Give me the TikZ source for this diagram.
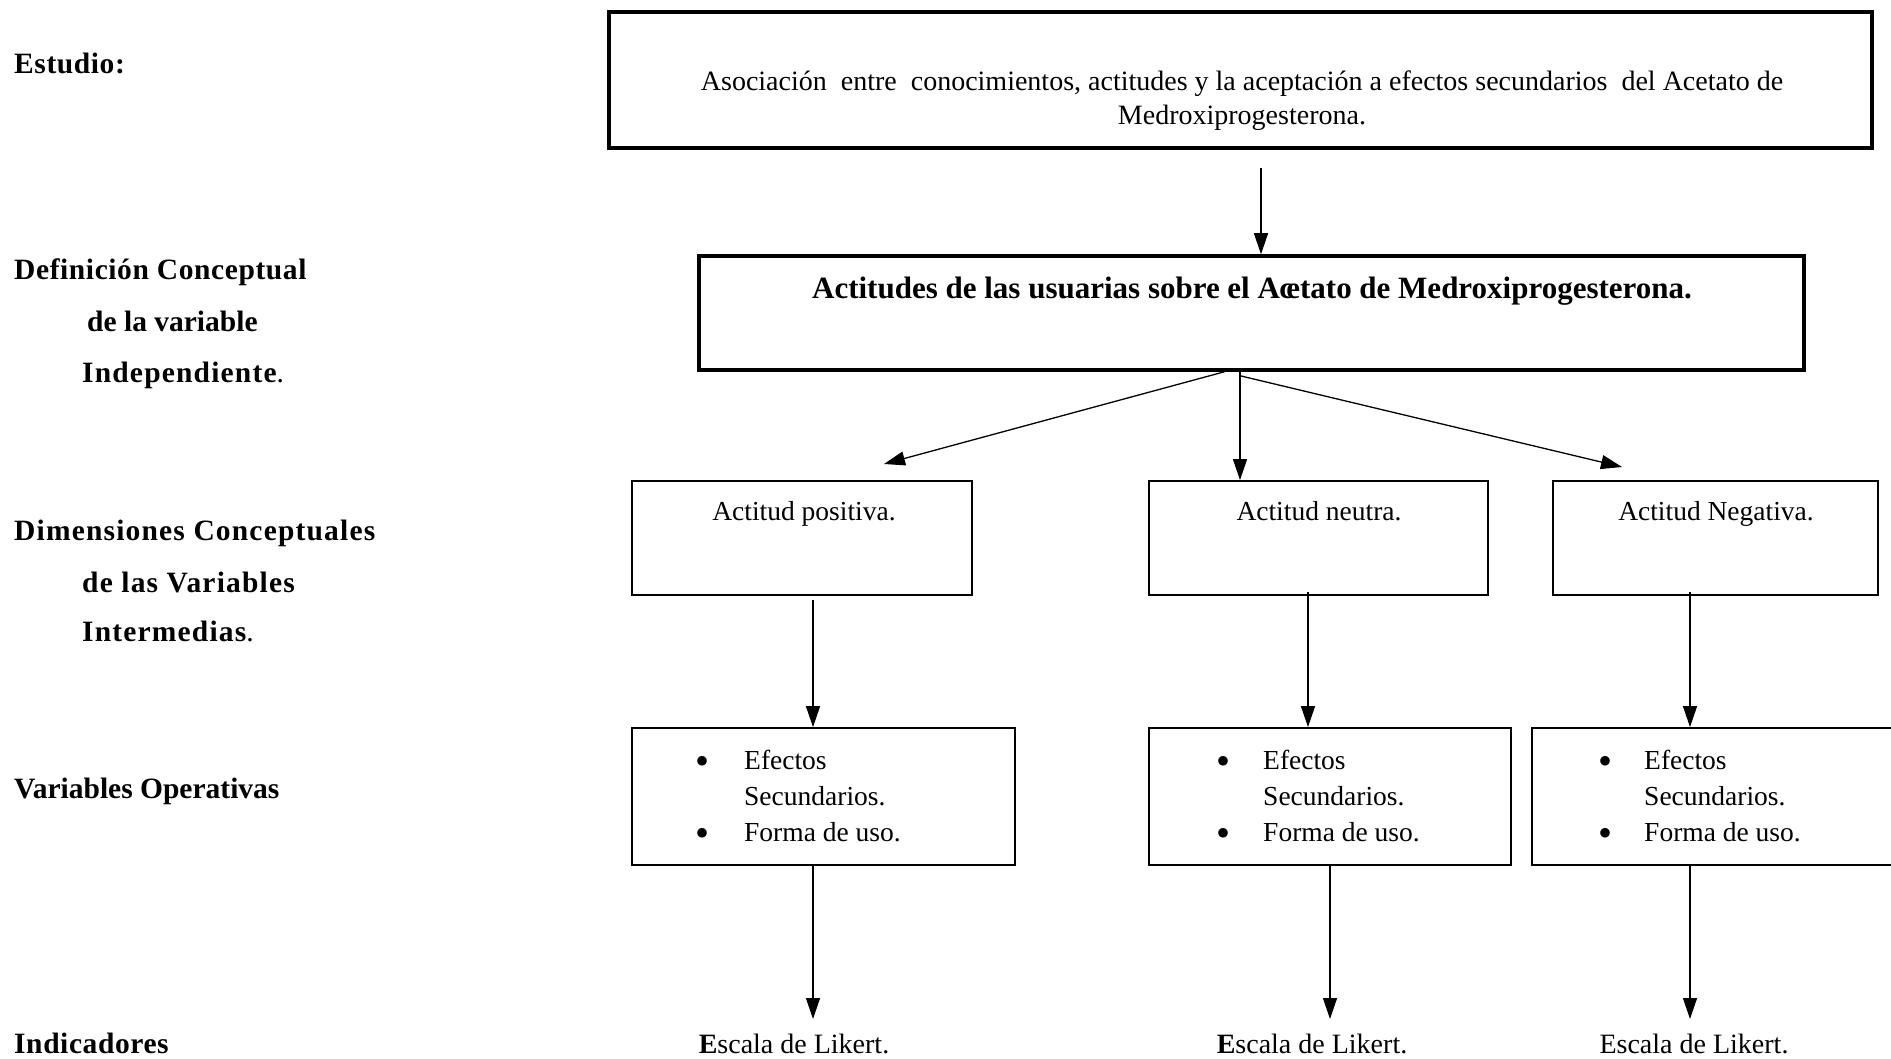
\documentclass[tikz,border=0pt]{standalone}
\usepackage{fontspec}
\setmainfont{Liberation Serif}
\newfontfamily\lblfont{Liberation Serif}
\newfontfamily\lblwide[LetterSpace=4]{Liberation Serif}
\newfontfamily\lblmid[LetterSpace=2]{Liberation Serif}
\usetikzlibrary{arrows.meta}
\begin{document}
\begin{tikzpicture}[x=1pt,y=-1pt,
  bigbox/.style={draw, line width=3.5pt, inner sep=0pt},
  smallbox/.style={draw, line width=1.8pt, inner sep=0pt},
  arr/.style={line width=1.3pt, -{Triangle[length=21pt,width=14pt]}},
  txt/.style={font=\fontsize{27.5}{36}\selectfont, inner sep=0pt},
  btxt/.style={font=\bfseries\fontsize{31}{36}\selectfont, inner sep=0pt},
  lbl/.style={font=\lblfont\fontsize{29.5}{34}\selectfont, anchor=base west, inner sep=0pt},
  lblm/.style={font=\lblmid\fontsize{29.5}{34}\selectfont, anchor=base west, inner sep=0pt},
  lblw/.style={font=\lblwide\fontsize{29.5}{34}\selectfont, anchor=base west, inner sep=0pt},
  line/.style={txt, anchor=base west},
  bul/.style={font=\fontsize{40}{40}\selectfont, inner sep=0pt, anchor=base}]
\useasboundingbox (0,0) rectangle (1891,1059);

% left labels
\node[lblm] (l1) at (14,74) {\bfseries Estudio:};
\node[lblm] (l2a) at (14,280) {\bfseries Definición Conceptual};
\node[lbl] (l2b) at (87,332) {\bfseries de la variable};
\node[lblw] (l2c) at (82,383) {{\bfseries Independiente}.};
\node[lblw] (l3a) at (14,540) {\bfseries Dimensiones Conceptuales};
\node[lblw] (l3b) at (82,592) {\bfseries de las Variables};
\node[lblw] (l3c) at (82,641) {{\bfseries Intermedias}.};
\node[lbl] (l4) at (14,798) {\bfseries Variables Operativas};
\node[lblm] (l5) at (14,1053) {\bfseries Indicadores};

% top box
\node[bigbox, minimum width=1263pt, minimum height=136pt] (estudio) at (1240.5,80) {};
\node[txt, font=\fontsize{28}{36}\selectfont, anchor=base] (t1a) at (1242,91) {Asociación~~entre~~conocimientos, actitudes y la aceptación a efectos secundarios~~del Acetato de};
\node[txt, font=\fontsize{28}{36}\selectfont, anchor=base] (t1b) at (1242,125) {Medroxiprogesterona.};

% second box
\node[bigbox, minimum width=1105pt, minimum height=114pt] (actitudes) at (1251.5,313) {};
\node[btxt, anchor=base] (t2) at (1252,299) {Actitudes de las usuarias sobre el A\kern-0.02em c\kern-0.22em etato de Medroxiprogesterona.};

% dimension boxes
\node[smallbox, minimum width=340pt, minimum height=114pt] (pos) at (802,538) {};
\node[smallbox, minimum width=339pt, minimum height=114pt] (neu) at (1318.5,538) {};
\node[smallbox, minimum width=325pt, minimum height=114pt] (neg) at (1715.5,538) {};
\node[txt, anchor=base] (tpos) at (804,520) {Actitud positiva.};
\node[txt, anchor=base] (tneu) at (1319,520) {Actitud neutra.};
\node[txt, anchor=base] (tneg) at (1716,520) {Actitud Negativa.};

% operative variable boxes
\node[smallbox, minimum width=383pt, minimum height=137pt] (var1) at (823.5,796.5) {};
\node[smallbox, minimum width=362pt, minimum height=137pt] (var2) at (1330,796.5) {};
\node[smallbox, minimum width=362pt, minimum height=137pt] (var3) at (1713,796.5) {};

\node[bul] (b1a) at (702,774) {•};
\node[bul] (b1b) at (702,846) {•};
\node[line] (v1a) at (744,769) {Efectos};
\node[line] (v1b) at (744,805) {Secundarios.};
\node[line] (v1c) at (744,841) {Forma de uso.};

\node[bul] (b2a) at (1223,774) {•};
\node[bul] (b2b) at (1223,846) {•};
\node[line] (v2a) at (1263,769) {Efectos};
\node[line] (v2b) at (1263,805) {Secundarios.};
\node[line] (v2c) at (1263,841) {Forma de uso.};

\node[bul] (b3a) at (1605,774) {•};
\node[bul] (b3b) at (1605,846) {•};
\node[line] (v3a) at (1644,769) {Efectos};
\node[line] (v3b) at (1644,805) {Secundarios.};
\node[line] (v3c) at (1644,841) {Forma de uso.};

% indicators
\node[txt, font=\fontsize{28}{34}\selectfont, anchor=base] (ind1) at (794,1053) {\textbf{E}scala de Likert.};
\node[txt, font=\fontsize{28}{34}\selectfont, anchor=base] (ind2) at (1312,1053) {\textbf{E}scala de Likert.};
\node[txt, font=\fontsize{28}{34}\selectfont, anchor=base] (ind3) at (1694,1053) {Escala de Likert.};

% connectors
\draw[arr] ([xshift=20.5pt,yshift=-18pt]estudio.south) -- ([xshift=20.5pt]estudio.south |- actitudes.north);

\coordinate (tipL) at (884,464);
\coordinate (tipR) at (1622,467);
\draw[arr] ([xshift=-27pt]actitudes.south) -- (tipL);
\draw[arr] ([xshift=-11.5pt]actitudes.south) -- ([xshift=-11.5pt]actitudes.south |- neu.north);
\draw[arr] ([xshift=-11.5pt,yshift=-4pt]actitudes.south) -- (tipR);

\draw[arr] ([xshift=11pt,yshift=-4pt]pos.south) -- ([xshift=11pt]pos.south |- var1.north);
\draw[arr] ([xshift=-10.5pt,yshift=4pt]neu.south) -- ([xshift=-10.5pt]neu.south |- var2.north);
\draw[arr] ([xshift=-25.5pt,yshift=4pt]neg.south) -- ([xshift=-25.5pt]neg.south |- var3.north);

\coordinate (e1) at (813,1019);
\coordinate (e2) at (1330,1019);
\coordinate (e3) at (1690,1019);
\draw[arr] (var1.south -| e1) -- (e1);
\draw[arr] (var2.south -| e2) -- (e2);
\draw[arr] (var3.south -| e3) -- (e3);
\end{tikzpicture}
\end{document}
